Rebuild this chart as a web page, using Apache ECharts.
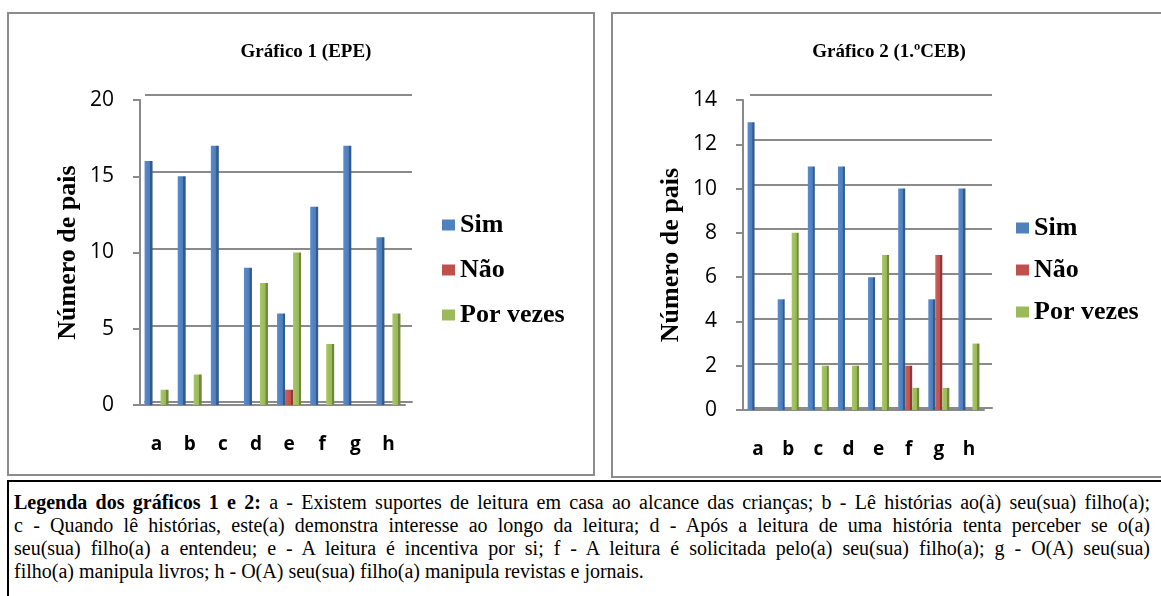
<!DOCTYPE html>
<html>
<head>
<meta charset="utf-8">
<script src="https://cdn.jsdelivr.net/npm/echarts@6/dist/echarts.min.js"></script>
<style>
  html, body { margin: 0; padding: 0; background: #fff; width: 1161px; height: 596px; overflow: hidden; }
  .box { position: absolute; box-sizing: border-box; }
  #box1 { left: 7px; top: 12px; width: 588px; height: 464px; border: 2px solid #8c8c8c; }
  #box2 { left: 611px; top: 12px; width: 600px; height: 466px; border: 2px solid #8c8c8c; }
  #note { left: 7px; top: 480px; width: 1200px; height: 200px; border: 2px solid #000; }
  #noteText { position: absolute; left: 14px; top: 491px; width: 1136px;
    font-family: "Liberation Serif", "DejaVu Serif", serif; font-size: 20px; line-height: 23px; color: #000; }
  #noteText div { text-align: justify; text-align-last: justify; white-space: nowrap; }
  #noteText div.last { text-align-last: left; }
  #chart { position: absolute; left: 0; top: 0; width: 1161px; height: 480px; }
</style>
</head>
<body>
<div class="box" id="box1"></div>
<div class="box" id="box2"></div>
<div class="box" id="note"></div>
<div id="noteText">
  <div><b>Legenda dos gráficos 1 e 2:</b> a - Existem suportes de leitura em casa ao alcance das crianças; b - Lê histórias ao(à) seu(sua) filho(a);</div>
  <div>c - Quando lê histórias, este(a) demonstra interesse ao longo da leitura; d - Após a leitura de uma história tenta perceber se o(a)</div>
  <div>seu(sua) filho(a) a entendeu; e - A leitura é incentiva por si; f - A leitura é solicitada pelo(a) seu(sua) filho(a); g - O(A) seu(sua)</div>
  <div class="last">filho(a) manipula livros; h - O(A) seu(sua) filho(a) manipula revistas e jornais.</div>
</div>
<div id="chart"></div>
<script>
// Categories (questions a–h) and answer counts
const categories = ['a', 'b', 'c', 'd', 'e', 'f', 'g', 'h'];
const seriesNames = ['Sim', 'Não', 'Por vezes'];

// Gráfico 1 (EPE)
const epeSim      = [16, 15, 17, 9, 6, 13, 17, 11];
const epeNao      = [0, 0, 0, 0, 1, 0, 0, 0];
const epePorVezes = [1, 2, 0, 8, 10, 4, 0, 6];

// Gráfico 2 (1.ºCEB)
const cebSim      = [13, 5, 11, 11, 6, 10, 5, 10];
const cebNao      = [0, 0, 0, 0, 0, 2, 7, 0];
const cebPorVezes = [0, 8, 2, 2, 7, 1, 1, 3];

// Axis scales
const epeAxis = { min: 0, max: 20, interval: 5 };
const cebAxis = { min: 0, max: 14, interval: 2 };

const baseColors = ['#4F81BD', '#C0504D', '#9BBB59'];
const shades = [
  ['#5b8ccb', '#4a7dbd', '#365a88'],
  ['#d05c59', '#c0504d', '#8c3a37'],
  ['#a8c866', '#98b857', '#6f873f']
];
function barFill(i) {
  const s = shades[i];
  return new echarts.graphic.LinearGradient(0, 0, 1, 0, [
    { offset: 0, color: s[0] },
    { offset: 0.68, color: s[1] },
    { offset: 0.72, color: s[2] },
    { offset: 1, color: s[2] }
  ]);
}

const gridColor = '#8a8a8a';
const serif = '"Liberation Serif", "Times New Roman", serif';
const sans = '"Open Sans", "Noto Sans", sans-serif';

function backY(gridIndex, ax) {
  return {
    type: 'value', gridIndex, min: ax.min, max: ax.max, interval: ax.interval,
    axisLine: { show: false }, axisTick: { show: false }, axisLabel: { show: false },
    splitLine: { show: true, lineStyle: { color: gridColor, width: 2 } }
  };
}
function frontY(gridIndex, ax) {
  return {
    type: 'value', gridIndex, min: ax.min, max: ax.max, interval: ax.interval,
    name: 'Número de pais', nameLocation: 'middle', nameGap: 59,
    nameTextStyle: { fontFamily: serif, fontWeight: 'bold', fontSize: 26, color: '#000' },
    axisLine: { show: true, lineStyle: { color: gridColor, width: 2 } },
    axisTick: { show: true, length: 7, lineStyle: { color: gridColor, width: 2 } },
    axisLabel: { fontFamily: sans, fontSize: 21, color: '#000', margin: 26 },
    splitLine: { show: false }
  };
}
function backX(gridIndex) {
  return {
    type: 'category', gridIndex, data: categories,
    axisLine: { show: true, lineStyle: { color: gridColor, width: 2 } },
    axisTick: { show: false }, axisLabel: { show: false }
  };
}
function frontX(gridIndex) {
  return {
    type: 'category', gridIndex, data: categories,
    axisLine: { show: true, lineStyle: { color: gridColor, width: 2 } },
    axisTick: { show: false },
    axisLabel: { fontFamily: sans, fontWeight: 'bold', fontSize: 19, color: '#000', margin: 30 }
  };
}
function bars(axisIndex, dataSets, width) {
  return dataSets.map((d, i) => ({
    name: seriesNames[i], type: 'bar', xAxisIndex: axisIndex, yAxisIndex: axisIndex,
    data: d, barWidth: width, barGap: '0%',
    itemStyle: { color: barFill(i) }, silent: true
  }));
}
function legend(left, top, gap) {
  return {
    orient: 'vertical', left, top, itemWidth: 13, itemHeight: 11, itemGap: gap,
    icon: 'rect', selectedMode: false,
    data: seriesNames.map((n, i) => ({ name: n, itemStyle: { color: baseColors[i] } })),
    textStyle: { fontFamily: serif, fontWeight: 'bold', fontSize: 26, color: '#000' }
  };
}

const chart = echarts.init(document.getElementById('chart'), null, { renderer: 'canvas' });
chart.setOption({
  animation: false,
  title: [
    { text: 'Gráfico 1 (EPE)', left: 301, top: 38, textAlign: 'center',
      textStyle: { fontFamily: serif, fontWeight: 'bold', fontSize: 19, color: '#000' } },
    { text: 'Gráfico 2 (1.ºCEB)', left: 884, top: 38, textAlign: 'center',
      textStyle: { fontFamily: serif, fontWeight: 'bold', fontSize: 19, color: '#000' } }
  ],
  legend: [legend(437, 207, 19), legend(1011, 210, 16)],
  grid: [
    { left: 145, top: 95, width: 267, height: 307 },
    { left: 140, top: 100, width: 265, height: 305 },
    { left: 750, top: 95, width: 242, height: 313 },
    { left: 743, top: 100, width: 241, height: 310 }
  ],
  xAxis: [backX(0), frontX(1), backX(2), frontX(3)],
  yAxis: [backY(0, epeAxis), frontY(1, epeAxis), backY(2, cebAxis), frontY(3, cebAxis)],
  series: [
    ...bars(1, [epeSim, epeNao, epePorVezes], 8),
    ...bars(3, [cebSim, cebNao, cebPorVezes], 7)
  ]
});
</script>
</body>
</html>
